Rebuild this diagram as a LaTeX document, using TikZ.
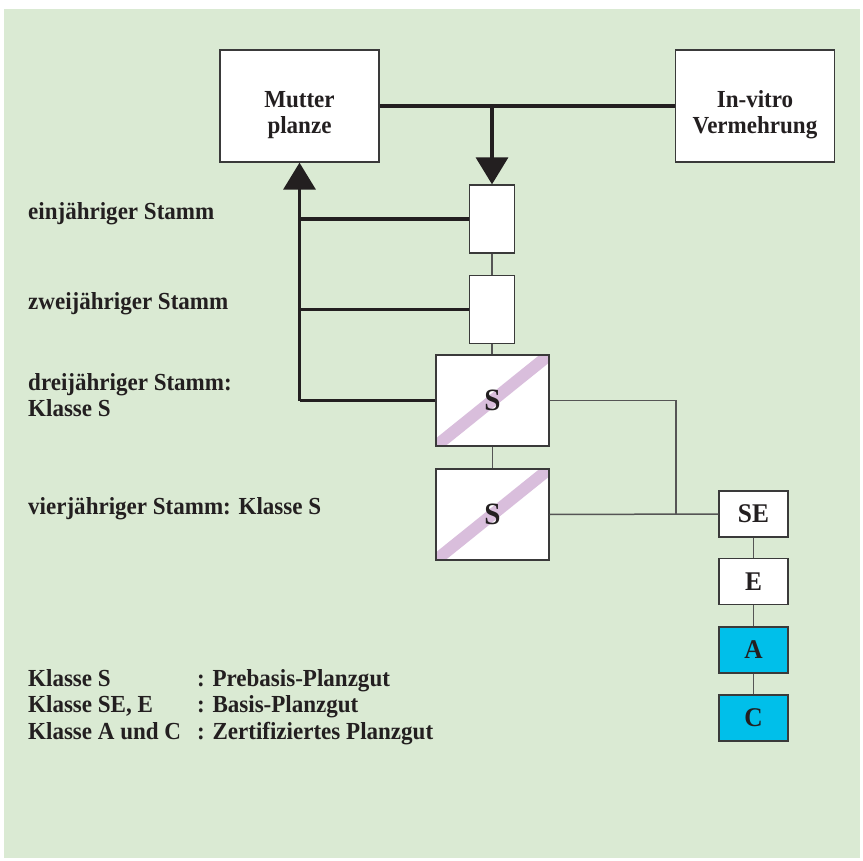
\documentclass[tikz,border=0pt]{standalone}
\usepackage{fontspec}
\setmainfont{Liberation Serif}[FakeStretch=0.94]
\usetikzlibrary{arrows.meta}
\definecolor{bggreen}{HTML}{DAEAD3}
\definecolor{ink}{HTML}{231F20}
\definecolor{frame}{HTML}{3A3A3A}
\definecolor{thinline}{HTML}{555555}
\definecolor{lilac}{HTML}{D9BEDC}
\definecolor{cyanbox}{HTML}{00BFEA}
\tikzset{
  txt/.style={inner sep=0pt, text=ink, font=\fontsize{24.5}{26}\selectfont\bfseries},
  box/.style={draw=frame, line width=1.3pt, fill=white, inner sep=0pt},
  bigbox/.style={box, minimum width=159pt, minimum height=112pt},
  stembox/.style={box, minimum width=45pt, minimum height=68pt},
  sbox/.style={box, minimum width=113pt, minimum height=91pt,
    path picture={\draw[lilac, line width=12pt]
      (path picture bounding box.south west) -- (path picture bounding box.north east);},
    text=ink, font=\fontsize{31}{34}\selectfont\bfseries},
  classbox/.style={box, minimum width=69pt, minimum height=46pt,
    text=ink, font=\fontsize{27}{30}\selectfont\bfseries},
  thk/.style={draw=ink, line width=3.5pt},
  thn/.style={draw=thinline, line width=1.5pt},
  tip/.style={-{Triangle[width=32pt,length=27pt]}},
}
\begin{document}
\begin{tikzpicture}[x=1pt,y=-1pt]
\useasboundingbox (0,0) rectangle (863,861);
\fill[bggreen] (4,9) rectangle (860,858);

% top boxes
\node[bigbox] (mutter) at (299.5,106) {};
\node[bigbox] (invitro) at (755,106) {};
\node[txt, align=center] (mtxt) at ([yshift=-9pt]mutter.center) {Mutter\\planze};
\node[txt, align=center] (itxt) at ([yshift=-9pt]invitro.center) {In-vitro\\Vermehrung};

% stem boxes
\node[stembox] (b1) at (492,219) {};
\node[stembox] (b2) at (492,309.5) {};
\node[sbox] (b3) at (492.5,400.5) {S};
\node[sbox] (b4) at (492.5,514.5) {S};

% class boxes
\node[classbox] (se) at (753.5,514) {SE};
\node[classbox] (e) at (753.5,581.5) {E};
\node[classbox, fill=cyanbox] (a) at (753.5,650) {A};
\node[classbox, fill=cyanbox] (c) at (753.5,718) {C};

% thick connectors
\draw[thk] (mutter.east) -- (invitro.west);
\coordinate (j1) at (b1.north |- mutter.east);
\draw[thk, tip] (j1) -- (b1.north);
\coordinate (v3) at (b3.west -| mutter.south);
\coordinate (v1) at (b1.west -| mutter.south);
\coordinate (v2) at (b2.west -| mutter.south);
\draw[thk, tip] (v3) -- (mutter.south);
\draw[thk] (b1.west) -- (v1);
\draw[thk] (b2.west) -- (v2);
\draw[thk] (b3.west) -- (v3);

% thin connectors
\draw[thn] (b1.south) -- (b2.north);
\draw[thn] (b2.south) -- (b2.south |- b3.north);
\draw[thn] (b3.south) -- (b4.north);
\coordinate (k1) at (676,400.5);
\coordinate (k2) at (676,514.5);
\draw[thn] (b3.east) -- (k1) -- (k2);
\draw[thn] (b4.east) -- (se.west);
\draw[thn] (se.south) -- (e.north);
\draw[thn] (e.south) -- (a.north);
\draw[thn] (a.south) -- (c.north);

% labels
\node[txt, anchor=base west] (l1) at (28,220) {einjähriger Stamm};
\node[txt, anchor=base west] (l2) at (28,310) {zweijähriger Stamm};
\node[txt, anchor=base west] (l3a) at (28,391) {dreijähriger Stamm:};
\node[txt, anchor=base west] (l3b) at (28,417) {Klasse S};
\node[txt, anchor=base west] (l4) at (28,514) {vierjähriger Stamm: Klasse S};

% legend
\node[txt, anchor=base west] (k1a) at (28,686) {Klasse S};
\node[txt, anchor=base west] (k1b) at (197,686) {: Prebasis-Planzgut};
\node[txt, anchor=base west] (k2a) at (28,712.5) {Klasse SE, E};
\node[txt, anchor=base west] (k2b) at (197,712.5) {: Basis-Planzgut};
\node[txt, anchor=base west] (k3a) at (28,739) {Klasse A und C};
\node[txt, anchor=base west] (k3b) at (197,739) {: Zertifiziertes Planzgut};
\end{tikzpicture}
\end{document}
